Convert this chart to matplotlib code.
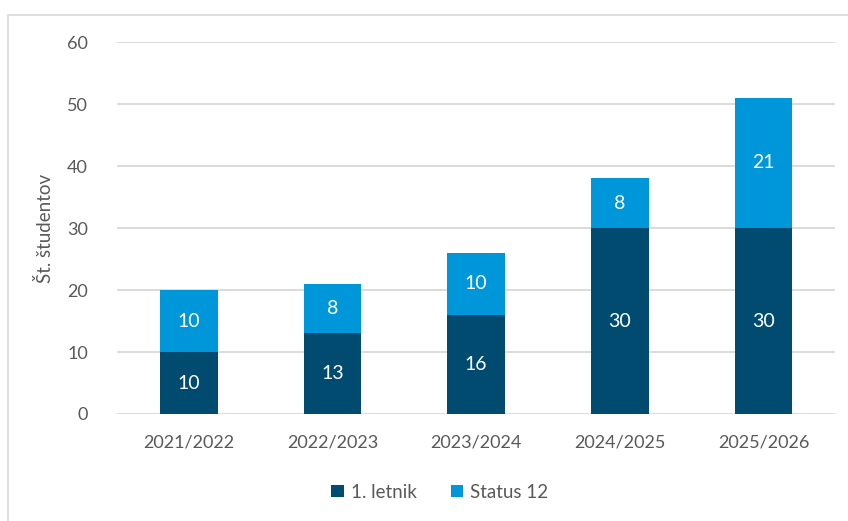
"""Stacked bar chart: students per academic year."""

import matplotlib

matplotlib.use("Agg")

import matplotlib.pyplot as plt
from matplotlib.patches import Rectangle

YEARS = ["2021/2022", "2022/2023", "2023/2024", "2024/2025", "2025/2026"]
FIRST_YEAR = [10, 13, 16, 30, 30]
STATUS_12 = [10, 8, 10, 8, 21]

DARK = "#024B70"
LIGHT = "#0096DA"
GRID = "#D9D9D9"
TEXT = "#595959"

plt.rcParams["font.family"] = ["Lato", "DejaVu Sans"]

fig = plt.figure(figsize=(8.48, 5.21), dpi=100)
ax = fig.add_axes([0.138, 0.2054, 0.847, 0.7137])

# light frame around the chart area, as in the original export
fig.patches.append(
    Rectangle((8 / 848, -0.05), 2.0, 1 - 15 / 521 + 0.05, transform=fig.transFigure,
              fill=False, edgecolor="#D9D9D9", linewidth=1.2, zorder=0)
)

x = range(len(YEARS))
width = 0.4
bars1 = ax.bar(x, FIRST_YEAR, width, color=DARK, label="1. letnik", zorder=3)
bars2 = ax.bar(x, STATUS_12, width, bottom=FIRST_YEAR, color=LIGHT,
               label="Status 12", zorder=3)

for bars in (bars1, bars2):
    ax.bar_label(bars, label_type="center", color="white", fontsize=14)

ax.set_xlim(-0.5, len(YEARS) - 0.5)
ax.set_ylim(0, 60)
ax.set_yticks(range(0, 61, 10))
ax.set_xticks(list(x))
ax.set_xticklabels(YEARS)
ax.yaxis.grid(True, color=GRID, linewidth=1.3, zorder=0)
ax.set_axisbelow(True)
for side in ("top", "right", "left", "bottom"):
    ax.spines[side].set_visible(False)
ax.tick_params(axis="both", length=0, labelsize=13, colors=TEXT)
ax.tick_params(axis="x", pad=15)
ax.tick_params(axis="y", pad=21)

ax.set_ylabel("Št. študentov", fontsize=13.5, color=TEXT, labelpad=9)

fig.legend(handles=[bars1, bars2], loc="center", bbox_to_anchor=(440 / 848, 1 - 492 / 521),
           ncol=2, frameon=False, fontsize=13.5, labelcolor=TEXT,
           handlelength=0.65, handleheight=0.65, handletextpad=0.4, columnspacing=1.8)

fig.savefig("out.png", dpi=100)
